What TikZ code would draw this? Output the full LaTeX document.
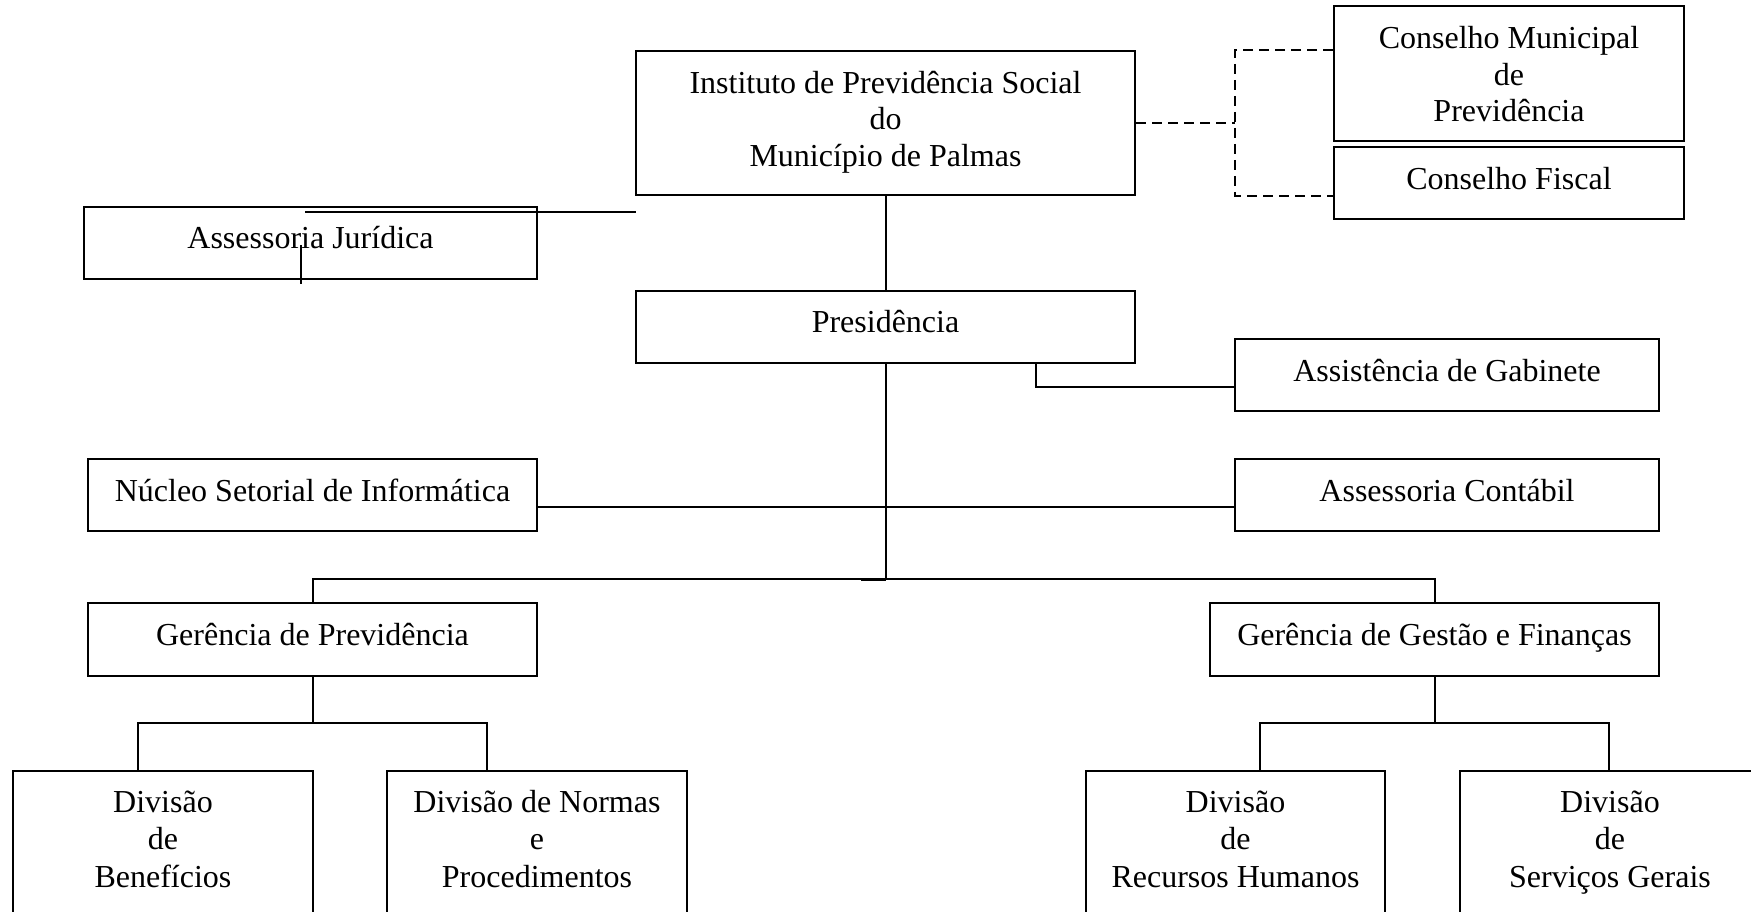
\documentclass[tikz,border=0pt]{standalone}
\usepackage{fontspec}
\setmainfont{Liberation Serif}
\begin{document}
\begin{tikzpicture}[x=1pt,y=-1pt,
  box/.style={draw, line width=2pt, rectangle, inner sep=0pt},
  txt/.style={anchor=base, align=center, inner sep=0pt, font=\fontsize{32pt}{36.6pt}\selectfont},
  btxt/.style={txt, font=\fontsize{32pt}{37.5pt}\selectfont},
  conn/.style={line width=2pt},
  dsh/.style={line width=2pt, dash pattern=on 10pt off 6pt}]
\useasboundingbox (0,0) rectangle (1751,912);
\clip (0,0) rectangle (1751,912);
% boxes
\node[box, minimum width=499pt, minimum height=144pt] (inst) at (885.5,123) {};
\node[box, minimum width=453pt, minimum height=72pt] (aj) at (310.5,243) {};
\node[box, minimum width=350pt, minimum height=135pt] (cmp) at (1509,73.5) {};
\node[box, minimum width=350pt, minimum height=72pt] (cf) at (1509,183) {};
\node[box, minimum width=499pt, minimum height=72pt] (pres) at (885.5,327) {};
\node[box, minimum width=424pt, minimum height=72pt] (ag) at (1447,375) {};
\node[box, minimum width=449pt, minimum height=72pt] (nsi) at (312.5,495) {};
\node[box, minimum width=424pt, minimum height=72pt] (ac) at (1447,495) {};
\node[box, minimum width=449pt, minimum height=73pt] (gp) at (312.5,639.5) {};
\node[box, minimum width=449pt, minimum height=73pt] (ggf) at (1434.5,639.5) {};
\node[box, minimum width=300pt, minimum height=200pt] (db) at (163,871) {};
\node[box, minimum width=300pt, minimum height=200pt] (dn) at (537,871) {};
\node[box, minimum width=299pt, minimum height=200pt] (drh) at (1235.5,871) {};
\node[box, minimum width=300pt, minimum height=200pt] (dsg) at (1610,871) {};
% texts (anchor base = baseline of last line)
\node[txt] (inst-t) at ([yshift=-116.4pt]inst.north) {Instituto de Previdência Social\\do\\Município de Palmas};
\node[txt] (aj-t) at ([yshift=-42.5pt]aj.north) {Assessoria Jurídica};
\node[txt] (cmp-t) at ([yshift=-116.7pt]cmp.north) {Conselho Municipal\\de\\Previdência};
\node[txt] (cf-t) at ([yshift=-43.4pt]cf.north) {Conselho Fiscal};
\node[txt] (pres-t) at ([yshift=-42.3pt]pres.north) {Presidência};
\node[txt] (ag-t) at ([yshift=-43pt]ag.north) {Assistência de Gabinete};
\node[txt] (nsi-t) at ([yshift=-43.4pt]nsi.north) {Núcleo Setorial de Informática};
\node[txt] (ac-t) at ([yshift=-43.4pt]ac.north) {Assessoria Contábil};
\node[txt] (gp-t) at ([yshift=-43.5pt]gp.north) {Gerência de Previdência};
\node[txt] (ggf-t) at ([yshift=-43.5pt]ggf.north) {Gerência de Gestão e Finanças};
\node[btxt] (db-t) at ([yshift=-117.4pt]db.north) {Divisão\\de\\Benefícios};
\node[btxt] (dn-t) at ([yshift=-117.4pt]dn.north) {Divisão de Normas\\e\\Procedimentos};
\node[btxt] (drh-t) at ([yshift=-117.4pt]drh.north) {Divisão\\de\\Recursos Humanos};
\node[btxt] (dsg-t) at ([yshift=-117.4pt]dsg.north) {Divisão\\de\\Serviços Gerais};
% coordinates
\coordinate (dj) at (1235,123);
\coordinate (bus) at (885.5,579);
\coordinate (busl) at (861,579);
\coordinate (gpb) at (312.5,723);
\coordinate (ggfb) at (1434.5,723);
\coordinate (ajl1) at (305,212);
\coordinate (ajl2) at (636,212);
\coordinate (ajv1) at (301,245);
\coordinate (ajv2) at (301,284);
% connectors
\draw[dsh] (inst.east) -- (dj);
\draw[dsh] (cmp.west |- inst.north) -| (dj) |- (cf.west |- inst.south);
\draw[conn] (inst.south) -- (pres.north);
\draw[conn] (ajl1) -- (ajl2);
\draw[conn] (ajv1) -- (ajv2);
\draw[conn] ([xshift=150.5pt]pres.south) |- ([yshift=-12pt]ag.west);
\draw[conn] ([yshift=-12pt]nsi.east) -- ([yshift=-12pt]ac.west);
\draw[conn] (pres.south) -- (bus);
\draw[conn] (gp.north) |- (bus) -| (ggf.north);
\draw[line width=3pt] (busl) -- (bus);
\draw[conn] (gp.south) -- (gpb);
\draw[conn] ([xshift=-25pt]db.north) |- (gpb) -| ([xshift=-50pt]dn.north);
\draw[conn] (ggf.south) -- (ggfb);
\draw[conn] ([xshift=24.5pt]drh.north) |- (ggfb) -| ([xshift=-1pt]dsg.north);
\end{tikzpicture}
\end{document}
